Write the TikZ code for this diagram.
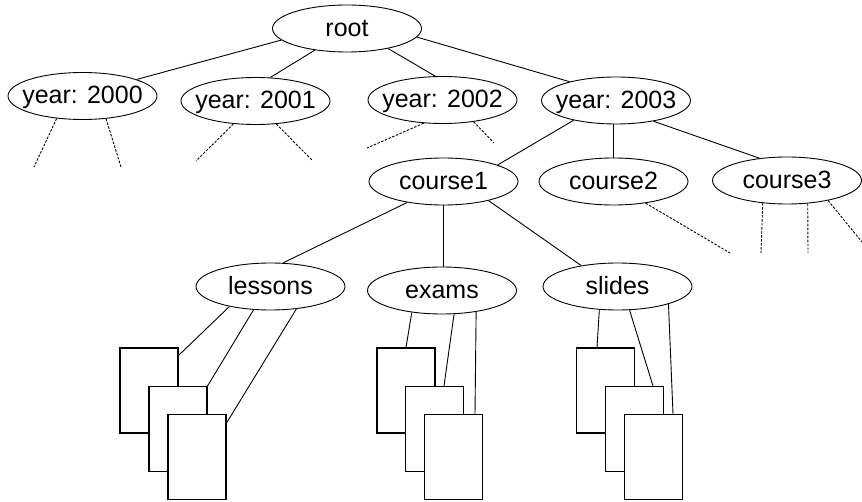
\documentclass[tikz,border=0pt]{standalone}
\usepackage{fontspec}
\setmainfont{Liberation Sans}
\usetikzlibrary{shapes.geometric}
\newcommand{\ndtxt}[1]{\raisebox{-8pt}[0pt][0pt]{\makebox[0pt]{#1}}}
\begin{document}
\begin{tikzpicture}[x=1pt,y=-1pt,
  ell/.style={ellipse, draw, line width=0.9pt, minimum width=149pt, minimum height=47pt, inner sep=0pt, font=\fontsize{25}{30}\selectfont},
  docbox/.style={rectangle, draw, fill=white, line width=1.1pt, minimum width=58pt, minimum height=85pt, inner sep=0pt},
  link/.style={line width=0.9pt},
  dotlink/.style={line width=0.9pt, dash pattern=on 2.5pt off 1.5pt}]
\useasboundingbox (0,0) rectangle (862,502);
\clip (0,0) rectangle (862,502);
% ellipses
\node[ell] (root) at (347,28.5) {\ndtxt{root}};
\node[ell] (y0) at (82.5,96) {\ndtxt{year: 2000}};
\node[ell] (y1) at (255.5,101) {\ndtxt{year: 2001}};
\node[ell] (y2) at (442.5,100) {\ndtxt{year: 2002}};
\node[ell] (y3) at (616,100.5) {\ndtxt{year: 2003}};
\node[ell] (c1) at (443.5,181.5) {\ndtxt{course1}};
\node[ell] (c2) at (613.5,181.5) {\ndtxt{course2}};
\node[ell] (c3) at (787,180.5) {\ndtxt{course3}};
\node[ell] (les) at (270.5,286.5) {\ndtxt{lessons}};
\node[ell] (exa) at (442,290.5) {\ndtxt{exams}};
\node[ell] (sli) at (617.5,286.5) {\ndtxt{slides}};
% free ends of dashed lines
\coordinate (d0a) at (34,167);
\coordinate (d0b) at (121,167);
\coordinate (d1a) at (196,161);
\coordinate (d1b) at (312,160);
\coordinate (d2a) at (367,148);
\coordinate (d2b) at (494,143);
\coordinate (d5a) at (730,253);
\coordinate (d6a) at (761,253);
\coordinate (d6b) at (808,253);
\coordinate (d6c) at (862,242);
% tree edges
\draw[link] (root.-170.5) -- (y0.17);
\draw[link] (root.-146.1) -- (y1.58.9);
\draw[link] (root.-26.6) -- (y2.107.4);
\draw[link] (root.-7.4) -- (y3.158.1);
\draw[link] (y3.-155.5) -- (c1.17.1);
\draw[link] (y3.south -| c2.north) -- (c2.north);
\draw[link] (y3.-29) -- (c3.141.5);
\draw[link] (c1.-150.8) -- (les.62);
\draw[link] (c1.south) -- (c1.south |- exa.north);
\draw[link] (c1.-23.8) -- (sli.150.2);
% dashed edges
\draw[dotlink] (y0.-139.5) -- (d0a);
\draw[dotlink] (y0.-44.4) -- (d0b);
\draw[dotlink] (y1.-134.4) -- (d1a);
\draw[dotlink] (y1.-48.3) -- (d1b);
\draw[dotlink] (y2.-129.1) -- (d2a);
\draw[dotlink] (y2.-35.8) -- (d2b);
\draw[dotlink] (c2.-34.3) -- (d5a);
\draw[dotlink] (c3.-137.9) -- (d6a);
\draw[dotlink] (c3.-48.2) -- (d6b);
\draw[dotlink] (c3.-26.6) -- (d6c);
% documents
\node[docbox] (lA) at (149,390.5) {};
\node[docbox] (lB) at (178,429) {};
\node[docbox] (lC) at (197,457) {};
\node[docbox] (eA) at (406,390.5) {};
\node[docbox] (eB) at (434.5,429) {};
\node[docbox] (eC) at (453.5,457) {};
\node[docbox] (sA) at (605.5,390.5) {};
\node[docbox] (sB) at (634.5,429) {};
\node[docbox] (sC) at (653.5,457) {};
% document links
\draw[link] (les.-154.8) -- ([yshift=-8pt]lA.north east);
\draw[link] (les.-126.7) -- (lB.north east);
\draw[link] (les.-41.4) -- ([yshift=-9pt]lC.north east);
\draw[link] (exa.-144) -- (eA.north);
\draw[link] (exa.-63.9) -- ([xshift=9.5pt]eB.north);
\draw[link] (exa.-32.6) -- ([xshift=21.5pt]eC.north);
\draw[link] (sli.-128.2) -- ([xshift=-8.5pt]sA.north);
\draw[link] (sli.-63.9) -- ([xshift=18.5pt]sB.north);
\draw[link] (sli.-19.6) -- ([xshift=19.5pt]sC.north);
\end{tikzpicture}
\end{document}
